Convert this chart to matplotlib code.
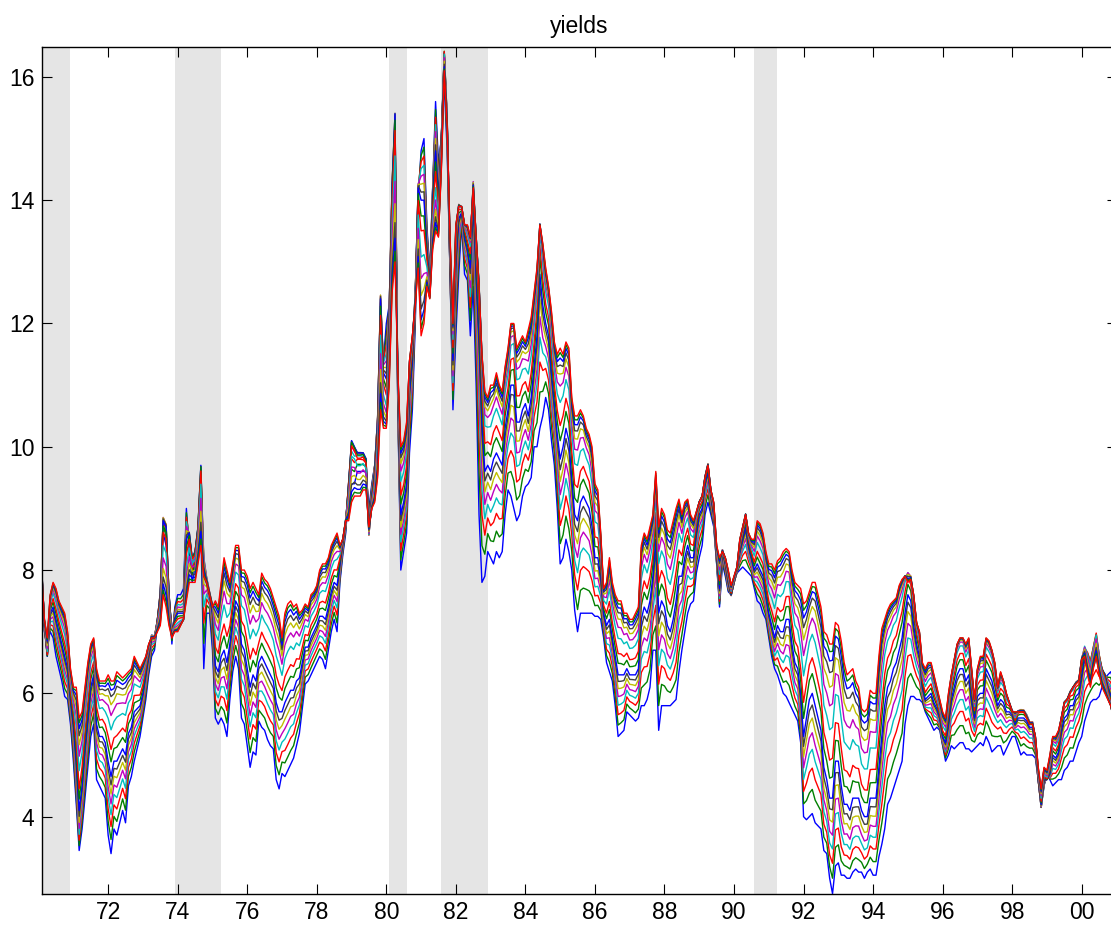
import numpy as np
import matplotlib
matplotlib.use("Agg")
import matplotlib.pyplot as plt

# Monthly zero-coupon yields (%), Jan 1970 - Dec 2000
maturities = [3, 6, 9, 12, 15, 18, 21, 24, 30, 36, 48, 60, 72, 84, 96, 108, 120]
anchor_maturities = [3, 24, 120]
start_year = 1970

y3m = [
    7.9, 7.0, 6.8, 7.0, 6.9, 6.6, 6.4, 6.2, 5.95, 5.9, 5.5, 4.9,
    4.2, 3.45, 3.8, 4.3, 4.8, 5.3, 5.5, 4.6, 4.5, 4.4, 4.3, 3.7,
    3.4, 3.8, 3.7, 3.9, 4.1, 3.9, 4.5, 4.65, 4.9, 5.1, 5.3, 5.6,
    5.9, 6.3, 6.6, 6.7, 7.1, 7.6, 8.6, 8.4, 7.5, 6.8, 7.4, 7.6,
    7.6, 7.7, 9.0, 8.3, 7.8, 8.05, 8.3, 8.65, 6.4, 7.3, 7.3, 6.7,
    5.6, 5.5, 5.6, 5.5, 5.3, 5.9, 6.35, 6.6, 6.4, 5.6, 5.5, 5.15,
    4.8, 5.05, 5.0, 5.55, 5.45, 5.4, 5.25, 5.15, 5.1, 4.6, 4.45, 4.7,
    4.65, 4.75, 4.85, 4.95, 5.15, 5.35, 5.75, 6.15, 6.2, 6.3, 6.4, 6.5,
    6.6, 6.55, 6.4, 6.7, 7.0, 7.2, 7.0, 7.8, 8.25, 8.6, 9.3, 9.4,
    9.4, 9.6, 9.6, 9.6, 9.6, 9.0, 9.4, 9.7, 10.4, 12.0, 11.4, 12.0,
    12.3, 14.0, 14.2, 10.5, 8.0, 8.3, 8.6, 9.9, 10.6, 12.0, 14.0, 14.8,
    15.0, 13.6, 12.8, 14.2, 15.6, 14.6, 15.0, 15.9, 14.8, 12.8, 10.6, 11.8,
    12.8, 13.6, 12.8, 12.7, 11.8, 12.6, 11.0, 8.9, 7.8, 7.9, 8.3, 8.2,
    8.1, 8.3, 8.2, 8.3, 8.9, 9.3, 9.2, 9.0, 8.8, 8.9, 9.2, 9.35,
    9.4, 9.5, 10.0, 10.0, 10.3, 10.5, 10.8, 10.6, 10.1, 9.7, 9.0, 8.1,
    8.2, 8.5, 8.3, 8.0, 7.35, 7.0, 7.3, 7.3, 7.3, 7.3, 7.3, 7.25,
    7.25, 7.2, 6.9, 6.5, 6.35, 6.2, 5.8, 5.3, 5.35, 5.4, 5.7, 5.65,
    5.6, 5.55, 5.6, 5.8, 5.8, 5.9, 6.1, 6.7, 6.7, 5.4, 5.8, 5.8,
    5.8, 5.8, 5.85, 5.9, 6.35, 6.7, 7.0, 7.3, 7.45, 7.5, 7.95, 8.2,
    8.4, 8.9, 9.1, 8.9, 8.7, 8.1, 7.4, 8.1, 7.9, 7.65, 7.6, 7.8,
    7.95, 8.0, 8.05, 8.0, 7.95, 7.9, 7.7, 7.5, 7.45, 7.3, 7.2, 6.9,
    6.6, 6.4, 6.3, 6.15, 6.0, 5.95, 5.85, 5.75, 5.65, 5.55, 5.2, 4.0,
    3.95, 4.0, 4.05, 3.9, 3.85, 3.8, 3.45, 3.4, 3.0, 2.75, 3.2, 3.25,
    3.05, 3.05, 3.0, 3.0, 3.1, 3.15, 3.1, 3.1, 3.0, 3.1, 3.15, 3.05,
    3.05, 3.35, 3.55, 3.8, 4.2, 4.3, 4.45, 4.6, 4.75, 4.9, 5.5, 5.8,
    5.95, 5.95, 5.9, 5.9, 5.85, 5.7, 5.6, 5.5, 5.4, 5.45, 5.4, 5.15,
    4.9, 5.0, 5.15, 5.1, 5.15, 5.2, 5.2, 5.1, 5.1, 5.05, 5.1, 5.15,
    5.2, 5.15, 5.3, 5.2, 5.05, 5.1, 5.15, 5.15, 5.0, 5.1, 5.2, 5.3,
    5.3, 5.15, 5.0, 5.05, 5.0, 5.0, 5.0, 4.95, 4.6, 4.15, 4.5, 4.7,
    4.6, 4.5, 4.55, 4.6, 4.6, 4.75, 4.8, 4.9, 4.9, 5.05, 5.2, 5.3,
    5.55, 5.7, 5.85, 5.9, 5.9, 5.95, 6.1, 6.25, 6.3, 6.35, 6.2, 5.9,
]

y24m = [
    8.1, 7.1, 6.6, 7.3, 7.4, 7.2, 7.0, 6.8, 6.6, 6.4, 5.9, 5.5,
    4.9, 4.1, 4.5, 5.1, 5.6, 6.1, 6.3, 5.5, 5.3, 5.3, 5.2, 4.9,
    4.65, 4.9, 4.9, 5.0, 5.1, 5.0, 5.35, 5.45, 5.7, 5.75, 5.8, 6.0,
    6.3, 6.6, 6.9, 6.9, 7.2, 7.6, 8.8, 8.7, 7.6, 7.0, 7.2, 7.3,
    7.3, 7.3, 8.5, 8.6, 8.2, 8.3, 8.7, 9.7, 8.0, 7.8, 7.6, 7.3,
    6.45, 6.35, 6.6, 6.7, 6.5, 6.8, 7.2, 7.5, 7.4, 6.8, 6.7, 6.4,
    6.1, 6.3, 6.2, 6.5, 6.6, 6.5, 6.4, 6.3, 6.2, 5.85, 5.7, 5.7,
    5.85, 5.95, 6.05, 6.05, 6.2, 6.25, 6.5, 6.75, 6.75, 6.9, 7.0, 7.1,
    7.25, 7.25, 7.2, 7.4, 7.65, 7.8, 7.75, 8.1, 8.45, 8.8, 9.4, 10.1,
    10.0, 9.9, 9.9, 9.9, 9.8, 8.6, 9.2, 9.6, 10.4, 12.4, 11.2, 11.1,
    12.0, 14.2, 15.4, 10.8, 8.9, 9.1, 9.4, 10.9, 11.4, 12.5, 14.2, 14.0,
    14.0, 13.2, 12.6, 14.0, 14.8, 14.0, 15.0, 16.4, 15.3, 12.9, 11.4, 13.0,
    13.7, 13.8, 13.4, 13.2, 12.9, 14.0, 12.8, 11.8, 10.4, 9.6, 9.7, 9.6,
    9.8, 9.9, 9.8, 9.7, 10.3, 10.6, 11.0, 11.0, 10.4, 10.4, 10.6, 10.7,
    10.5, 10.8, 11.3, 11.8, 12.8, 12.3, 12.0, 11.8, 11.2, 10.7, 10.2, 9.8,
    10.0, 10.3, 10.1, 9.5, 8.9, 8.8, 9.1, 9.2, 9.1, 9.0, 8.7, 8.2,
    8.2, 7.9, 7.3, 7.1, 7.2, 6.9, 6.6, 6.3, 6.3, 6.3, 6.4, 6.3,
    6.3, 6.3, 6.4, 7.2, 7.4, 7.3, 7.5, 7.9, 8.5, 7.3, 7.5, 7.4,
    7.1, 7.0, 7.2, 7.5, 7.9, 7.9, 8.2, 8.4, 8.2, 8.2, 8.6, 8.9,
    9.0, 9.4, 9.6, 9.2, 8.9, 8.2, 7.7, 8.3, 8.1, 7.8, 7.6, 7.8,
    8.0, 8.3, 8.5, 8.7, 8.4, 8.2, 8.0, 8.1, 8.0, 7.9, 7.6, 7.3,
    7.1, 6.9, 7.1, 7.0, 7.0, 7.2, 7.2, 6.8, 6.5, 6.4, 6.0, 5.3,
    5.6, 5.9, 6.0, 5.8, 5.6, 5.4, 4.8, 4.6, 4.3, 4.3, 4.9, 4.9,
    4.5, 4.2, 4.2, 4.1, 4.3, 4.3, 4.3, 4.1, 4.0, 4.0, 4.3, 4.3,
    4.3, 4.8, 5.3, 5.8, 6.1, 6.2, 6.4, 6.5, 6.7, 6.9, 7.3, 7.6,
    7.5, 7.1, 6.8, 6.6, 6.1, 5.9, 5.95, 6.0, 5.85, 5.75, 5.6, 5.3,
    5.2, 5.5, 5.9, 6.1, 6.3, 6.4, 6.4, 6.2, 6.3, 5.9, 5.6, 5.95,
    6.0, 6.0, 6.4, 6.3, 6.2, 6.0, 5.8, 5.9, 5.85, 5.7, 5.7, 5.65,
    5.5, 5.6, 5.6, 5.6, 5.55, 5.45, 5.45, 5.2, 4.6, 4.2, 4.6, 4.6,
    4.7, 5.0, 4.95, 5.05, 5.4, 5.6, 5.65, 5.8, 5.8, 5.95, 6.0, 6.3,
    6.6, 6.6, 6.5, 6.7, 6.9, 6.6, 6.4, 6.3, 6.1, 5.95, 5.7, 5.2,
]

y120m = [
    8.0, 7.2, 6.9, 7.6, 7.8, 7.7, 7.5, 7.4, 7.3, 7.0, 6.4, 6.1,
    6.1, 5.6, 5.7, 6.1, 6.5, 6.8, 6.9, 6.4, 6.2, 6.2, 6.2, 6.3,
    6.2, 6.2, 6.35, 6.3, 6.25, 6.3, 6.35, 6.4, 6.6, 6.5, 6.4, 6.5,
    6.6, 6.8, 6.9, 6.9, 7.0, 7.1, 7.6, 7.4, 7.1, 6.9, 7.0, 7.0,
    7.1, 7.2, 7.5, 7.8, 7.8, 7.8, 8.1, 8.4, 7.9, 7.8, 7.6, 7.4,
    7.5, 7.4, 7.8, 8.2, 8.0, 7.8, 8.1, 8.4, 8.4, 8.0, 8.0, 7.9,
    7.7, 7.8, 7.7, 7.6, 7.95, 7.85, 7.8, 7.7, 7.55, 7.4, 7.25, 6.9,
    7.3, 7.45, 7.5, 7.4, 7.45, 7.3, 7.35, 7.45, 7.4, 7.6, 7.65, 7.75,
    8.0, 8.1, 8.1, 8.2, 8.4, 8.5, 8.6, 8.4, 8.5, 8.8, 8.8, 9.1,
    9.2, 9.2, 9.2, 9.3, 9.3, 8.7, 9.0, 9.1, 9.5, 10.6, 10.3, 10.3,
    11.0, 12.5, 13.0, 11.2, 10.0, 10.1, 10.4, 11.4, 11.8, 12.3, 12.9, 11.8,
    12.0, 12.6, 12.4, 13.2, 13.5, 13.4, 14.5, 16.1, 15.2, 13.4, 12.0, 13.6,
    13.9, 13.9, 13.6, 13.6, 13.4, 14.2, 13.4, 12.6, 11.5, 10.9, 10.8, 11.0,
    11.0, 11.2, 11.0, 10.9, 11.3, 11.6, 12.0, 12.0, 11.6, 11.7, 11.8, 11.7,
    11.9, 12.1, 12.5, 12.9, 13.6, 13.3, 12.9, 12.6, 12.2, 11.7, 11.5, 11.6,
    11.5, 11.7, 11.6, 10.8, 10.5, 10.5, 10.6, 10.5, 10.3, 10.2, 10.0, 9.4,
    9.3, 8.6, 7.7, 7.8, 8.2, 7.8, 7.6, 7.5, 7.5, 7.3, 7.3, 7.2,
    7.2, 7.3, 7.4, 8.4, 8.6, 8.5, 8.7, 8.9, 9.6, 8.7, 9.0, 8.9,
    8.65, 8.6, 8.8, 9.0, 9.15, 8.9, 9.1, 9.15, 8.9, 8.8, 8.95, 9.1,
    9.2, 9.5, 9.7, 9.3, 9.1, 8.4, 8.2, 8.3, 8.2, 8.0, 7.75, 7.9,
    8.05, 8.5, 8.7, 8.9, 8.6, 8.5, 8.5, 8.8, 8.75, 8.6, 8.3, 8.1,
    8.1, 8.0, 8.15, 8.2, 8.3, 8.35, 8.3, 8.0, 7.8, 7.75, 7.7, 7.45,
    7.5, 7.65, 7.8, 7.8, 7.6, 7.4, 7.0, 6.95, 6.8, 6.8, 7.15, 7.1,
    6.85, 6.5, 6.3, 6.35, 6.4, 6.2, 6.1, 5.75, 5.7, 5.75, 6.05, 6.0,
    6.0, 6.6, 7.05, 7.2, 7.35, 7.45, 7.5, 7.55, 7.75, 7.85, 7.9, 7.8,
    7.85, 7.6, 7.15, 7.0, 6.5, 6.4, 6.5, 6.5, 6.3, 6.1, 5.9, 5.7,
    5.6, 6.0, 6.3, 6.55, 6.8, 6.9, 6.9, 6.8, 6.9, 6.4, 5.9, 6.4,
    6.6, 6.6, 6.9, 6.85, 6.7, 6.5, 6.1, 6.35, 6.2, 6.0, 5.85, 5.7,
    5.7, 5.7, 5.7, 5.7, 5.6, 5.5, 5.5, 5.3, 4.8, 4.45, 4.8, 4.75,
    5.0, 5.3, 5.3, 5.4, 5.6, 5.85, 5.9, 6.0, 6.1, 6.15, 6.2, 6.55,
    6.6, 6.3, 6.1, 6.4, 6.6, 6.3, 6.1, 6.0, 5.9, 5.8, 5.6, 5.2,
]

# NBER recessions: (peak year, peak month, trough year, trough month)
recessions = [(1969, 12, 1970, 11), (1973, 11, 1975, 3), (1980, 1, 1980, 7),
              (1981, 7, 1982, 11), (1990, 7, 1991, 3)]

tick_years = list(range(1972, 2001, 2))
tick_labels = [f"{y % 100:02d}" for y in tick_years]
y_ticks = [4, 6, 8, 10, 12, 14, 16]

# MATLAB-style line colour order
line_colors = [(0, 0, 1), (0, 0.5, 0), (1, 0, 0), (0, 0.75, 0.75),
               (0.75, 0, 0.75), (0.75, 0.75, 0), (0.25, 0.25, 0.25)]


def ns_loadings(tau, lam=0.0609):
    """Nelson-Siegel level/slope/curvature loadings at maturities tau (months)."""
    x = lam * np.asarray(tau, dtype=float)
    slope = (1 - np.exp(-x)) / x
    curv = slope - np.exp(-x)
    return np.column_stack([np.ones_like(x), slope, curv])


# Full curve at every month from the three observed maturities
weights = ns_loadings(maturities) @ np.linalg.inv(ns_loadings(anchor_maturities))
anchors = np.vstack([y3m, y24m, y120m])
curves = weights @ anchors

n_months = anchors.shape[1]
dates = start_year + (np.arange(n_months) + 1) / 12.0

plt.rcParams['font.family'] = ['Liberation Sans', 'DejaVu Sans']

W, H = 1111, 934
fig = plt.figure(figsize=(W / 100, H / 100), dpi=100)
ax = fig.add_axes([41.5 / W, 39.7 / H, 1075 / W, 847.6 / H])

for py, pm, ty, tm in recessions:
    ax.axvspan(py + pm / 12.0, ty + tm / 12.0, color='#e5e5e5', lw=0, zorder=0)

for i, series in enumerate(curves):
    ax.plot(dates, series, color=line_colors[i % len(line_colors)], lw=1.0, zorder=2)

ax.set_xlim(start_year + 1 / 12.0, 2001.0)
ax.set_ylim(2.74, 16.49)
ax.set_xticks(tick_years)
ax.set_xticklabels(tick_labels)
ax.set_yticks(y_ticks)
ax.tick_params(direction='in', top=True, right=True, length=7, width=0.8,
               labelsize=16.5, colors='black')
ax.tick_params(axis='x', pad=5)
ax.tick_params(axis='y', pad=5)
for sp in ax.spines.values():
    sp.set_linewidth(1.0)
    sp.set_color('black')

ax.set_title('yields', fontsize=16.5, pad=10)

fig.savefig('out.png', dpi=100)
